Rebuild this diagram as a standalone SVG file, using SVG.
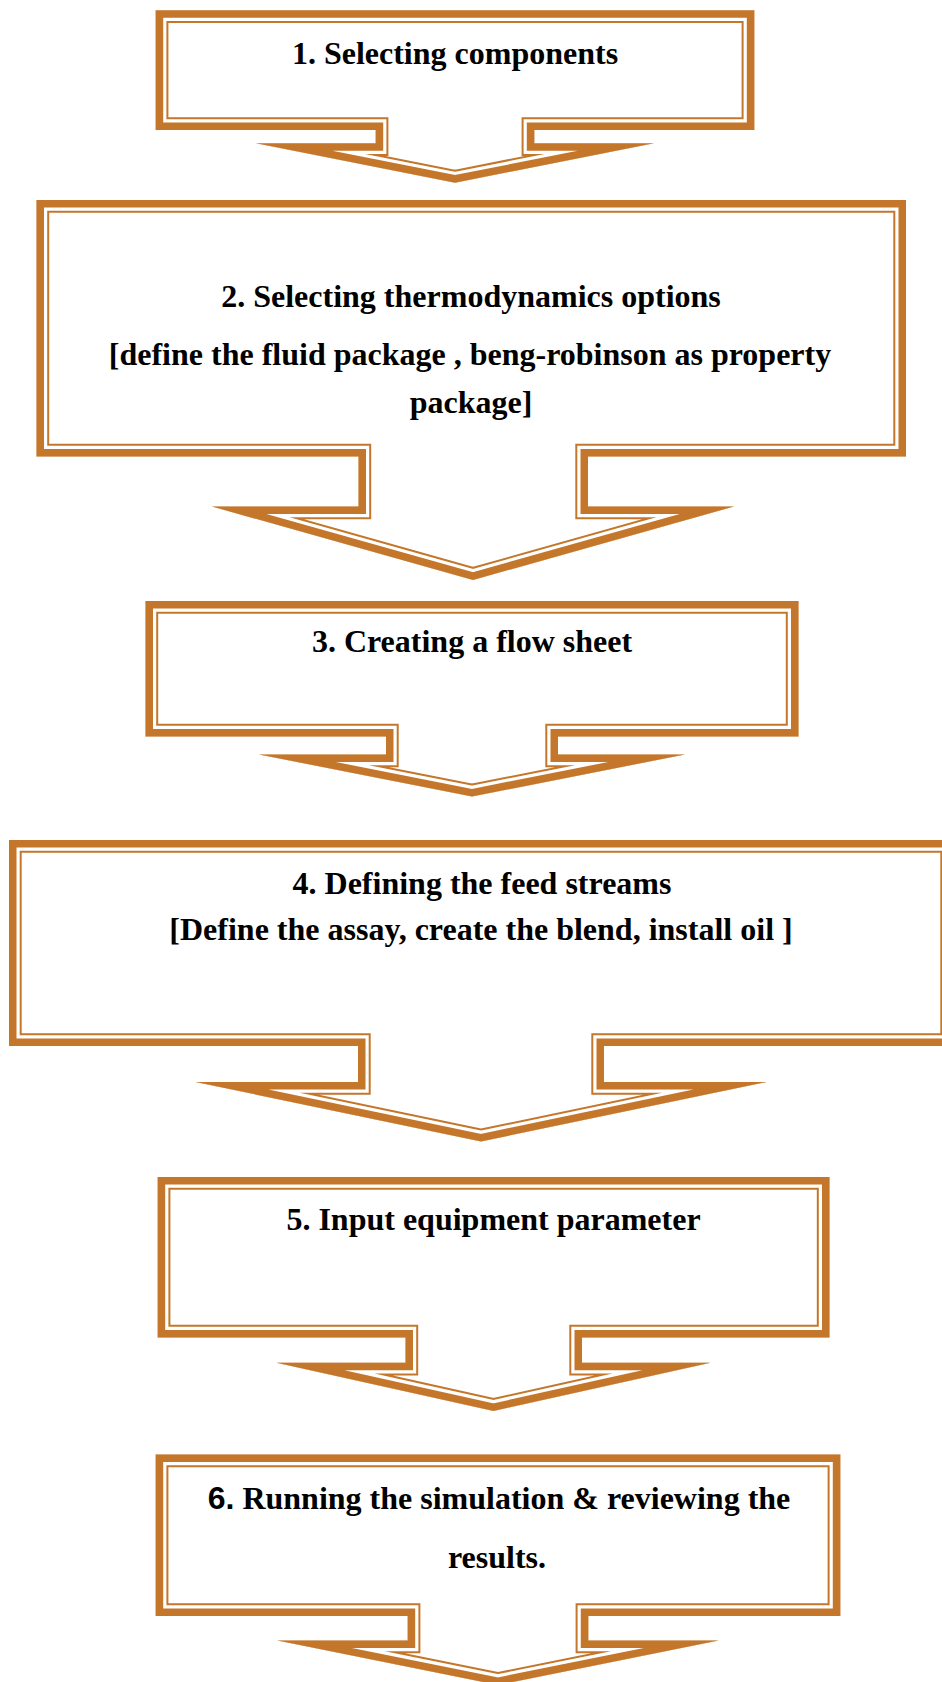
<svg xmlns="http://www.w3.org/2000/svg" xmlns:xlink="http://www.w3.org/1999/xlink" width="942" height="1682" viewBox="0 0 942 1682">
<style>
.o{fill:none;stroke:#C4772B;stroke-linejoin:miter;stroke-miterlimit:30}
.w{fill:none;stroke:#FFFFFF;stroke-linejoin:miter;stroke-miterlimit:30}
.t{font-family:"Liberation Serif","Times New Roman",serif;font-weight:bold;font-size:32px;fill:#000;text-anchor:middle}
.s{font-family:"Liberation Sans",Arial,sans-serif;font-weight:bold}
</style>
<defs>
<path id="p1" d="M155.7,10.3 H754.3 V130 H534.3 V143.3 H654 L455,182.7 L256,143.3 H375.7 V130 H155.7 Z"/>
<path id="p2" d="M36.5,200 H906 V456.5 H588 V506.5 H734 L473,580 L212,506.5 H358.5 V456.5 H36.5 Z"/>
<path id="p3" d="M145.5,601 H798.5 V736.5 H558 V754.5 H685 L472,796.5 L259,754.5 H386 V736.5 H145.5 Z"/>
<path id="p4" d="M9,840 H953 V1046 H604 V1082 H766.5 L481,1141.5 L195.5,1082 H358 V1046 H9 Z"/>
<path id="p5" d="M157.7,1177 H829.5 V1337.5 H582 V1362.7 H710.5 L493.5,1411 L276.5,1362.7 H405.5 V1337.5 H157.7 Z"/>
<path id="p6" d="M155.7,1454.5 H840.3 V1616 H588.3 V1640.5 H718.7 L498,1685 L277.3,1640.5 H407.7 V1616 H155.7 Z"/>
<clipPath id="c1"><use xlink:href="#p1"/></clipPath>
<clipPath id="c2"><use xlink:href="#p2"/></clipPath>
<clipPath id="c3"><use xlink:href="#p3"/></clipPath>
<clipPath id="c4"><use xlink:href="#p4"/></clipPath>
<clipPath id="c5"><use xlink:href="#p5"/></clipPath>
<clipPath id="c6"><use xlink:href="#p6"/></clipPath>
</defs>
<rect x="0" y="0" width="942" height="1682" fill="#FFFFFF"/>
<g id="connectors"></g>
<g id="step1">
<g clip-path="url(#c1)">
<use xlink:href="#p1" class="o" stroke-width="25.4"/>
<use xlink:href="#p1" class="w" stroke-width="21.4"/>
<use xlink:href="#p1" class="o" stroke-width="15"/>
</g>
<text class="t" x="455" y="63.5">1. Selecting components</text>
</g>
<g id="step2">
<g clip-path="url(#c2)">
<use xlink:href="#p2" class="o" stroke-width="25.4"/>
<use xlink:href="#p2" class="w" stroke-width="21.4"/>
<use xlink:href="#p2" class="o" stroke-width="15"/>
</g>
<text class="t" x="471" y="307">2. Selecting thermodynamics options</text>
<text class="t" x="470" y="365">[define the fluid package , beng-robinson as property</text>
<text class="t" x="471" y="413">package]</text>
</g>
<g id="step3">
<g clip-path="url(#c3)">
<use xlink:href="#p3" class="o" stroke-width="25.4"/>
<use xlink:href="#p3" class="w" stroke-width="21.4"/>
<use xlink:href="#p3" class="o" stroke-width="15"/>
</g>
<text class="t" x="472" y="652">3. Creating a flow sheet</text>
</g>
<g id="step4">
<g clip-path="url(#c4)">
<use xlink:href="#p4" class="o" stroke-width="25.4"/>
<use xlink:href="#p4" class="w" stroke-width="21.4"/>
<use xlink:href="#p4" class="o" stroke-width="15"/>
</g>
<text class="t" x="482" y="894">4. Defining the feed streams</text>
<text class="t" x="481" y="940">[Define the assay, create the blend, install oil ]</text>
</g>
<g id="step5">
<g clip-path="url(#c5)">
<use xlink:href="#p5" class="o" stroke-width="25.4"/>
<use xlink:href="#p5" class="w" stroke-width="21.4"/>
<use xlink:href="#p5" class="o" stroke-width="15"/>
</g>
<text class="t" x="493.5" y="1230">5. Input equipment parameter</text>
</g>
<g id="step6">
<g clip-path="url(#c6)">
<use xlink:href="#p6" class="o" stroke-width="25.4"/>
<use xlink:href="#p6" class="w" stroke-width="21.4"/>
<use xlink:href="#p6" class="o" stroke-width="15"/>
</g>
<text class="t" x="499" y="1509"><tspan class="s">6.</tspan> Running the simulation &amp; reviewing the</text>
<text class="t" x="497" y="1568">results.</text>
</g>
</svg>
